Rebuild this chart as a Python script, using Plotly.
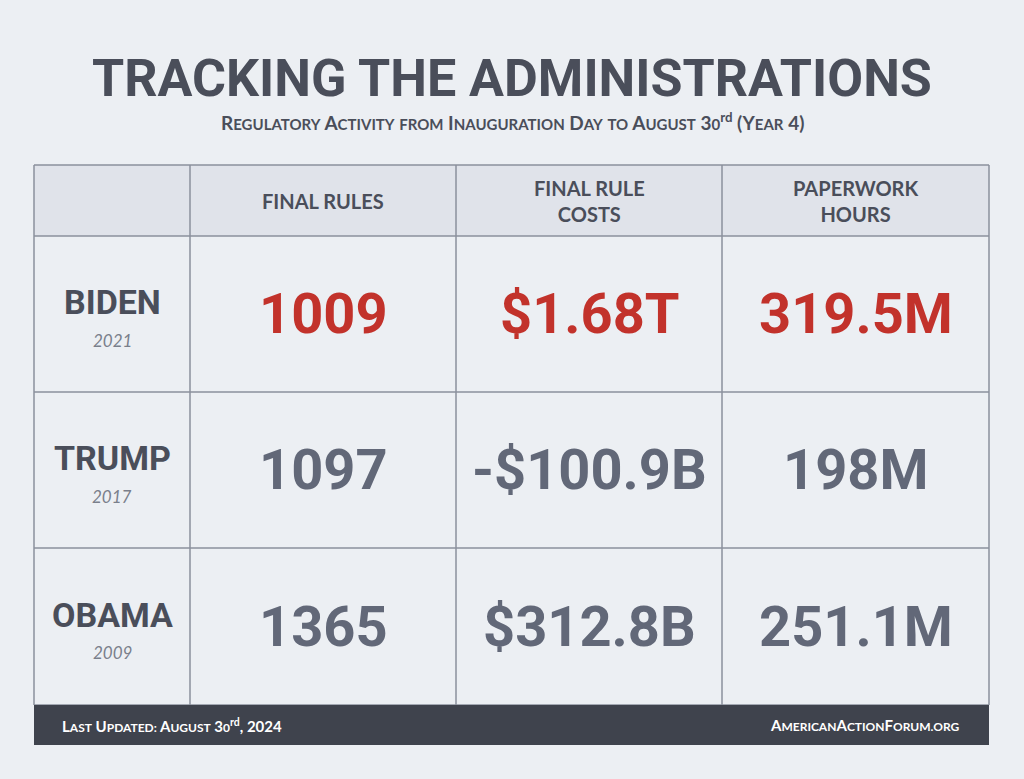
import plotly.graph_objects as go

admins = ["BIDEN", "TRUMP", "OBAMA"]
years = ["2021", "2017", "2009"]
columns = ["FINAL RULES", "FINAL RULE<br>COSTS", "PAPERWORK<br>HOURS"]
values = [["1009", "$1.68T", "319.5M"],
          ["1097", "-$100.9B", "198M"],
          ["1365", "$312.8B", "251.1M"]]

BG = "#eceff3"; HEAD = "#e0e3ea"; LINE = "#8b909c"; DARK = "#3f434d"
GRAY = "#626878"; RED = "#c2322b"; TXT = "#4a4e5a"
COND = "Roboto"

def smallcaps(s, small):
    out = []
    for w in s.split(" "):
        if w[0].isupper() or w[0].isdigit():
            out.append(w[0] + f"<span style='font-size:{small}px'>" + w[1:].upper() + "</span>")
        else:
            out.append(f"<span style='font-size:{small}px'>" + w.upper() + "</span>")
    return " ".join(out)

xs = [34, 190, 456, 722, 989]
ys = [165, 236, 392, 548, 705]

fig = go.Figure()
shapes = []
ann = []
shapes.append(dict(type="rect", x0=34, x1=989, y0=165, y1=236, fillcolor=HEAD, line_width=0, layer="below"))
for x in xs:
    shapes.append(dict(type="line", x0=x, x1=x, y0=165, y1=705, line=dict(color=LINE, width=1.5)))
for y in ys:
    shapes.append(dict(type="line", x0=34, x1=989, y0=y, y1=y, line=dict(color=LINE, width=1.5)))
shapes.append(dict(type="rect", x0=34, x1=989, y0=705, y1=745, fillcolor=DARK, line_width=0))

ann.append(dict(x=512, y=78, text="<b>TRACKING THE ADMINISTRATIONS</b>", font=dict(family=COND, size=52, color=TXT)))
ann.append(dict(x=512, y=121, text="<b>" + smallcaps("Regulatory Activity from Inauguration Day to August 30", 15) +
                "<sup>rd</sup> (Y<span style='font-size:15px'>EAR</span> 4)</b>",
                font=dict(family="Lato", size=19, color=TXT)))
for j, c in enumerate(columns):
    ann.append(dict(x=(xs[j+1]+xs[j+2])/2, y=201, text="<b>" + c + "</b>",
                    font=dict(family="Lato", size=20, color=TXT)))
for i, a in enumerate(admins):
    yc = (ys[i+1]+ys[i+2])/2
    ann.append(dict(x=112, y=yc-12, text="<b>" + a + "</b>", font=dict(family=COND, size=34, color=TXT)))
    ann.append(dict(x=112, y=yc+26, text="<i>" + years[i] + "</i>", font=dict(family="Lato", size=17, color="#7a7f8b")))
    for j, v in enumerate(values[i]):
        ann.append(dict(x=(xs[j+1]+xs[j+2])/2, y=yc, text="<b>" + v + "</b>",
                        font=dict(family=COND, size=56, color=RED if i == 0 else GRAY)))
ann.append(dict(x=60, y=725, xanchor="left", text="<b>" + smallcaps("Last Updated: August 30", 12) +
                "<sup>rd</sup>, 2024</b>", font=dict(family="Lato", size=15, color="white")))
ann.append(dict(x=962, y=725, xanchor="right",
                text="<b>A<span style='font-size:12px'>MERICAN</span>A<span style='font-size:12px'>CTION</span>F<span style='font-size:12px'>ORUM.ORG</span></b>",
                font=dict(family="Lato", size=15, color="white")))
for a in ann:
    a.update(xref="x", yref="y", showarrow=False)
    a.setdefault("xanchor", "center")
    a["yanchor"] = "middle"

fig.update_layout(width=1024, height=779, margin=dict(l=0, r=0, t=0, b=0),
                  paper_bgcolor=BG, plot_bgcolor=BG, shapes=shapes, annotations=ann,
                  xaxis=dict(range=[0, 1024], visible=False, fixedrange=True),
                  yaxis=dict(range=[779, 0], visible=False, fixedrange=True), showlegend=False)
fig.write_html("out.html", config={"displayModeBar": False},
               post_script="document.body.style.margin='0';document.body.style.background='#eceff3';")
